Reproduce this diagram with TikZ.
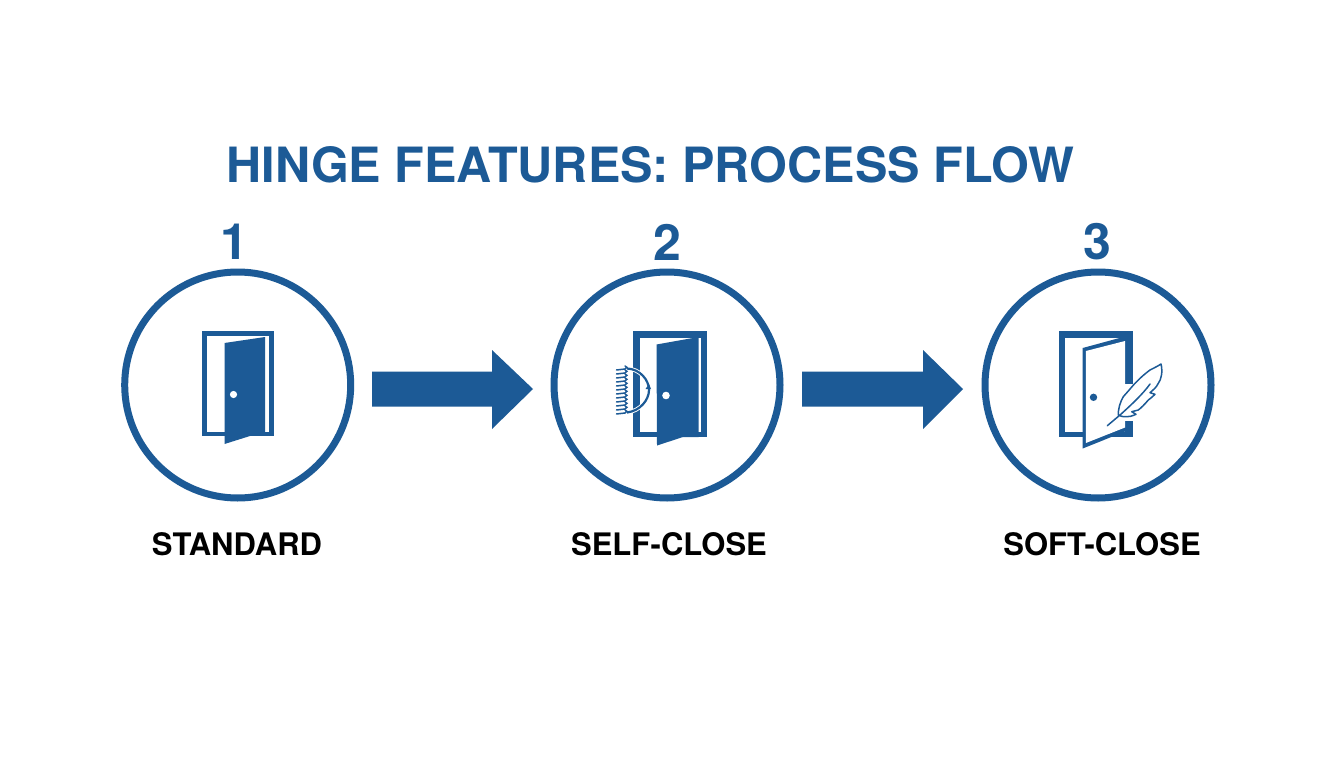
\documentclass[tikz,border=0pt]{standalone}
\usepackage{fontspec}
\setmainfont{TeX Gyre Heros}
\definecolor{hblue}{HTML}{1C5A96}
\tikzset{
  x=1pt,y=-1pt,
  ring/.style={circle,draw=hblue,line width=7pt,fill=white,minimum size=226pt,inner sep=0pt},
  ttl/.style={text=hblue,font=\bfseries\fontsize{48.6}{49}\selectfont,inner sep=0pt},
  num/.style={text=hblue,font=\bfseries\fontsize{50}{50}\selectfont,inner sep=0pt},
  lab/.style={text=black,font=\bfseries\fontsize{31}{31}\selectfont,inner sep=0pt},
  flow/.style={fill=hblue,draw=none},
  ico/.style={fill=hblue,draw=none},
  hole/.style={fill=white,draw=none},
}
\begin{document}
\begin{tikzpicture}
\useasboundingbox (0,0) rectangle (1344,768);
\fill[white] (0,0) rectangle (1344,768);
\node[ttl] (title) at (650.5,165) {HINGE FEATURES: PROCESS FLOW};
\node[num] (n1) at (234.5,242) {1};
\node[num] (n2) at (667.3,242) {2};
\node[num] (n3) at (1097,242) {3};
\node[ring] (c1) at (237.7,385) {};
\node[ring] (c2) at (667,385) {};
\node[ring] (c3) at (1098,385) {};
\node[lab] (l1) at (237,544) {STANDARD};
\node[lab] (l2) at (669,544) {SELF-CLOSE};
\node[lab] (l3) at (1102,544) {SOFT-CLOSE};
% arrows
\fill[flow] (372,371.5) -- (492,371.5) -- (492,350) -- (533,389) -- (492,429) -- (492,406.5) -- (372,406.5) -- cycle;
\fill[flow] (802,371.5) -- (923,371.5) -- (923,350) -- (963,389) -- (923,429) -- (923,406.5) -- (802,406.5) -- cycle;
% door 1
\fill[ico] (202,331) rectangle (273.5,436);
\fill[hole] (207,336) rectangle (268.5,431.5);
\fill[ico] (207,431.5) rectangle (222,436);
\fill[ico] (224.5,343) -- (265,337) -- (265,432) -- (250,436) -- (224.5,444) -- cycle;
\fill[hole] (233.5,394.5) circle (3.6);
% door 2
\fill[ico] (632.5,331) rectangle (707,437);
\fill[hole] (639.5,337.5) rectangle (700.5,431.5);
\fill[ico] (656.5,344.5) -- (698.5,337) -- (698.5,437) -- (683,437) -- (657,445.5) -- cycle;
\fill[hole] (666,395.5) circle (3.8);
% spring and damper
\draw[white,line width=4pt] (627,368.5) .. controls (640,369) and (649,380) .. (649,390) .. controls (649,400) and (640,411) .. (627,412.5);
\draw[hblue,line width=2.2pt] (627,368.5) .. controls (640,369) and (649,380) .. (649,390) .. controls (649,400) and (640,411) .. (627,412.5);
\fill[hblue] (645.5,389) -- (651,389) -- (649,384) -- cycle;
\foreach \yy in {370,374,...,414} {
  \draw[hblue,line width=1.5pt,line cap=round] (616.5,\yy) -- (625,\yy-1) .. controls (627.5,\yy-1.5) and (627.5,\yy-4) .. (625,\yy-4);
}
% door 3
\fill[ico] (1058.5,331) rectangle (1132.5,437);
\fill[hole] (1065,337.5) rectangle (1125,431.5);
\fill[ico] (1082.7,348) -- (1125,336.5) -- (1125,431.5) -- (1082.7,448.5) -- cycle;
\fill[hole] (1085.9,351) -- (1125,341) -- (1125,427.5) -- (1085.9,443) -- cycle;
\fill[ico] (1093.5,397.3) circle (3.7);
% feather
\fill[hole] (1124,384) rectangle (1134,421);
\draw[hblue,line width=1.5pt,fill=white,line join=round]
  (1161,364) .. controls (1163,372) and (1161,380) .. (1158.3,383.3)
  .. controls (1156,388) and (1153,390) .. (1150,392.7)
  -- (1155,394.3)
  .. controls (1152,397) and (1150,399) .. (1148.3,400)
  .. controls (1145,404) and (1141,408) .. (1138.3,410)
  -- (1131.7,411.7) -- (1136,414.3)
  .. controls (1132,416) and (1129,417) .. (1126.7,416.7)
  .. controls (1123,417) and (1120,416) .. (1118.3,415)
  .. controls (1118,410) and (1120,402) .. (1123.3,396.7)
  .. controls (1125,394) and (1126,393) .. (1128.3,391)
  .. controls (1131,388) and (1134,384) .. (1136.7,381.7)
  .. controls (1141,377) and (1146,373) .. (1150,370)
  .. controls (1154,368) and (1158,366) .. (1161,364) -- cycle;
\draw[hblue,line width=1.5pt,line cap=round] (1107.3,425.7) -- (1120,415) .. controls (1130,406) and (1143,394) .. (1150,384);
\end{tikzpicture}
\end{document}
